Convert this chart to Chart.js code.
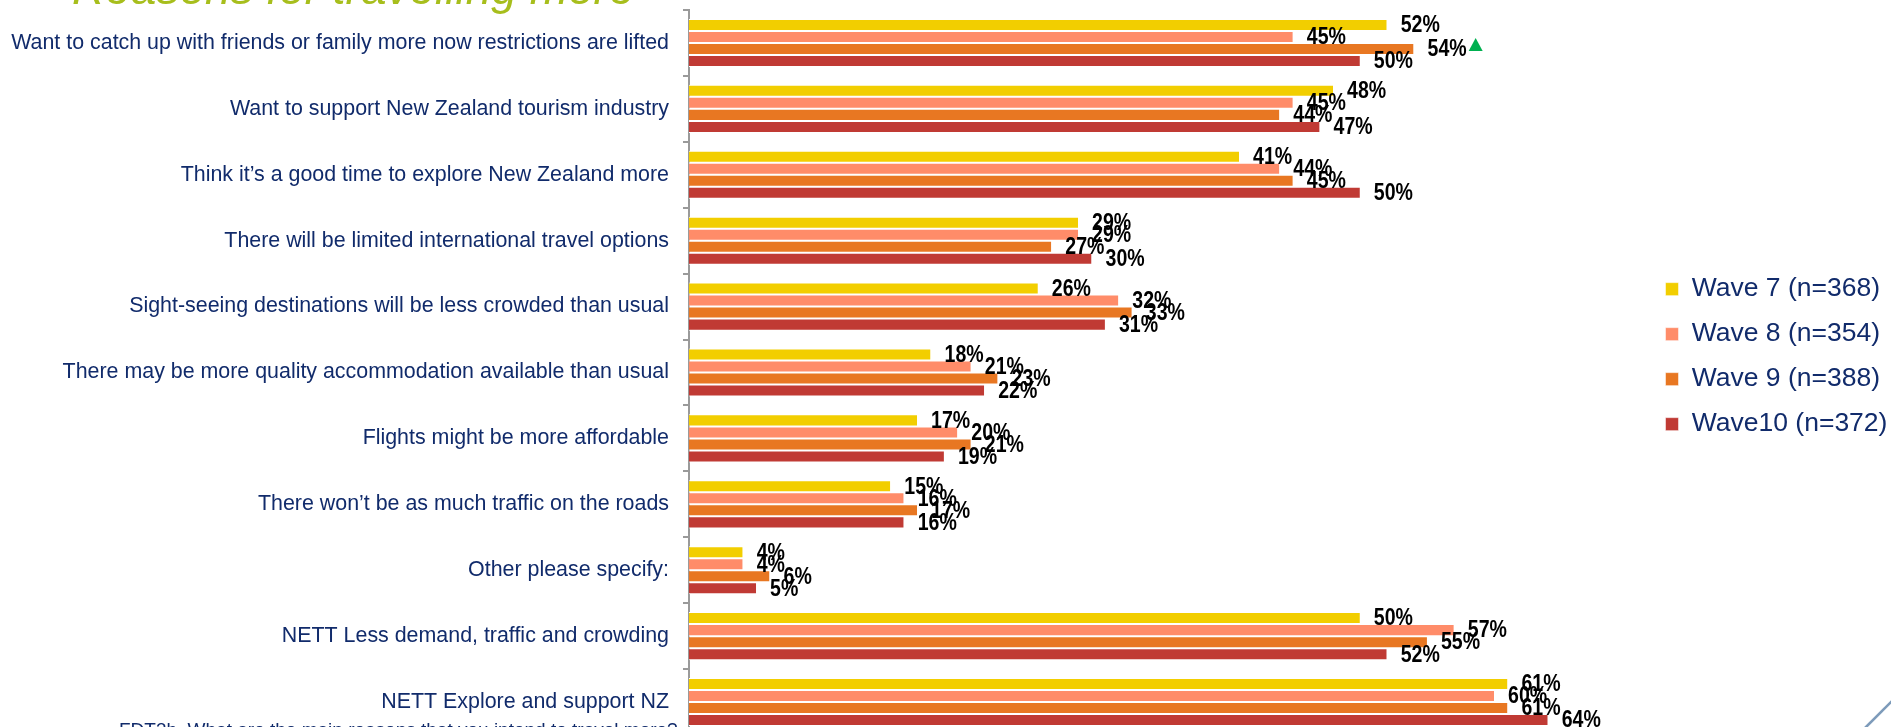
<!DOCTYPE html>
<html>
<head>
<meta charset="utf-8">
<title>Reasons for travelling more</title>
<script src="https://cdn.jsdelivr.net/npm/chart.js@4.4.1/dist/chart.umd.min.js"></script>
<style>
    html, body { margin: 0; padding: 0; background: #fff; overflow: hidden; }
    #wrap { position: relative; width: 1891px; height: 727px; overflow: hidden; }
    canvas { display: block; }
</style>
</head>
<body>
<div id="wrap"><canvas id="reasonsChart" width="1891" height="740"></canvas></div>
<script>
var categories = [
    'Want to catch up with friends or family more now restrictions are lifted',
    'Want to support New Zealand tourism industry',
    'Think it\u2019s a good time to explore New Zealand more',
    'There will be limited international travel options',
    'Sight-seeing destinations will be less crowded than usual',
    'There may be more quality accommodation available than usual',
    'Flights might be more affordable',
    'There won\u2019t be as much traffic on the roads',
    'Other please specify:',
    'NETT Less demand, traffic and crowding',
    'NETT Explore and support NZ'
];
var seriesNames = ['Wave 7 (n=368)', 'Wave 8 (n=354)', 'Wave 9 (n=388)', 'Wave10 (n=372)'];
var wave7 = [52, 48, 41, 29, 26, 18, 17, 15, 4, 50, 61];
var wave8 = [45, 45, 44, 29, 32, 21, 20, 16, 4, 57, 60];
var wave9 = [54, 44, 45, 27, 33, 23, 21, 17, 6, 55, 61];
var wave10 = [50, 47, 50, 30, 31, 22, 19, 16, 5, 52, 64];
// significantly higher than previous wave (series index, category index)
var significantUp = [[2, 0]];

var chartTitle = 'Reasons for travelling more';
var footnote = 'FDT3b. What are the main reasons that you intend to travel more?';

var navy = '#112B6B';
var sans = '"Liberation Sans", Arial, sans-serif';

var extras = {
    id: 'extras',
    afterDatasetsDraw: function (chart) {
        var ctx = chart.ctx;
        var squeeze = 0.85; // narrow bold look of the value labels
        ctx.save();
        ctx.font = 'bold 23px ' + sans;
        ctx.fillStyle = '#000';
        ctx.textAlign = 'left';
        ctx.textBaseline = 'middle';
        chart.data.datasets.forEach(function (ds, i) {
            chart.getDatasetMeta(i).data.forEach(function (bar, j) {
                ctx.save();
                ctx.translate(bar.x + 14, bar.y + 1);
                ctx.scale(squeeze, 1);
                ctx.fillText(ds.data[j] + '%', 0, 0);
                ctx.restore();
            });
        });
        significantUp.forEach(function (s) {
            var ds = chart.data.datasets[s[0]];
            var bar = chart.getDatasetMeta(s[0]).data[s[1]];
            var x0 = bar.x + 14 + ctx.measureText(ds.data[s[1]] + '%').width * squeeze + 2;
            ctx.fillStyle = '#00B050';
            ctx.beginPath();
            ctx.moveTo(x0, bar.y + 2);
            ctx.lineTo(x0 + 14, bar.y + 2);
            ctx.lineTo(x0 + 7, bar.y - 11);
            ctx.closePath();
            ctx.fill();
        });
        ctx.restore();
    },
    afterDraw: function (chart) {
        var ctx = chart.ctx;
        ctx.save();
        ctx.textAlign = 'left';
        ctx.textBaseline = 'alphabetic';
        ctx.font = 'italic 46px ' + sans;
        ctx.fillStyle = '#A7BE1C';
        ctx.fillText(chartTitle, 72, 4);
        ctx.font = '19px ' + sans;
        ctx.fillStyle = navy;
        ctx.fillText(footnote, 119, 736);
        // slide decoration in the corner
        ctx.strokeStyle = '#7D9BBA';
        ctx.lineWidth = 2.5;
        ctx.beginPath();
        ctx.moveTo(1900, 693);
        ctx.lineTo(1860, 733);
        ctx.stroke();
        ctx.restore();
    }
};

var ctx = document.getElementById('reasonsChart').getContext('2d');
var reasonsChart = new Chart(ctx, {
    type: 'bar',
    data: {
        labels: categories,
        datasets: [{
            label: seriesNames[0],
            data: wave7,
            backgroundColor: '#F2CE00'
        }, {
            label: seriesNames[1],
            data: wave8,
            backgroundColor: '#FF8C69'
        }, {
            label: seriesNames[2],
            data: wave9,
            backgroundColor: '#E87722'
        }, {
            label: seriesNames[3],
            data: wave10,
            backgroundColor: '#C03A34'
        }]
    },
    options: {
        indexAxis: 'y',
        responsive: false,
        animation: false,
        datasets: {
            bar: {
                barPercentage: 1,
                categoryPercentage: 0.73,
                borderColor: '#fff',
                borderWidth: { top: 1, bottom: 1, left: 0, right: 0 },
                borderSkipped: false
            }
        },
        layout: {
            padding: { top: 10, bottom: 5, left: 0, right: 4 }
        },
        scales: {
            x: {
                display: false,
                min: 0,
                max: 71.4
            },
            y: {
                grid: {
                    drawOnChartArea: false,
                    offset: true,
                    tickLength: 6,
                    color: '#9A9A9A',
                    lineWidth: 2
                },
                border: { display: true, color: '#9A9A9A', width: 2 },
                ticks: {
                    autoSkip: false,
                    padding: 14,
                    color: navy,
                    font: { family: sans, size: 21.4 }
                },
                afterFit: function (scale) {
                    scale.width = 689;
                    scale.paddingTop = 0;
                    scale.paddingBottom = 0;
                }
            }
        },
        plugins: {
            legend: {
                position: 'right',
                align: 'start',
                maxWidth: 240,
                title: { display: true, text: '', padding: { top: 233, bottom: 0 } },
                labels: {
                    boxWidth: 13,
                    boxHeight: 13,
                    padding: 18.5,
                    color: navy,
                    font: { family: sans, size: 26.5 }
                }
            },
            tooltip: { enabled: false }
        }
    },
    plugins: [extras]
});
</script>
</body>
</html>
